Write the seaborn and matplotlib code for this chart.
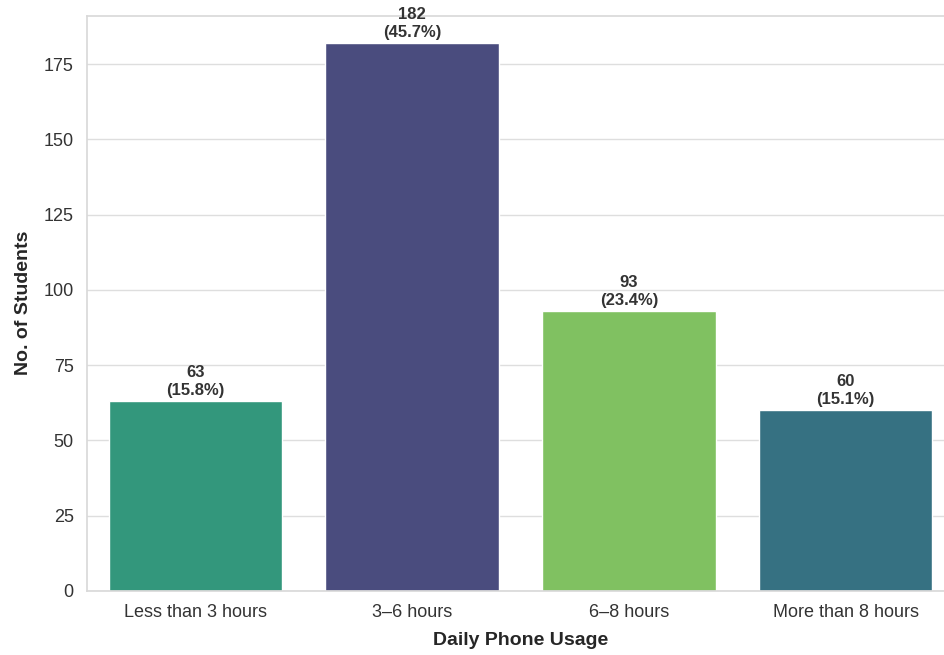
import pandas as pd
import seaborn as sns
import matplotlib
matplotlib.use("Agg")
from matplotlib import pyplot as plt

# Data
categories = ["Less than 3 hours", "3\u20136 hours", "6\u20138 hours", "More than 8 hours"]
counts = [63, 182, 93, 60]
# viridis slot each category was drawn with
palette_order = ["3\u20136 hours", "More than 8 hours", "Less than 3 hours", "6\u20138 hours"]

df = pd.DataFrame({"usage": categories, "students": counts})
total = sum(counts)

sns.set_theme(style="whitegrid")
plt.rcParams["font.family"] = ["Liberation Sans", "DejaVu Sans"]
plt.rc("axes", edgecolor="#d9d9d9")
plt.rc("grid", color="#dedede", linewidth=1.0)

colors = sns.color_palette("viridis", len(palette_order))
pal = dict(zip(palette_order, colors))

fig, ax = plt.subplots(figsize=(9.45, 6.55), dpi=100)
fig.subplots_adjust(left=0.092, right=1.0095, top=0.976, bottom=0.098)

sns.barplot(data=df, x="usage", y="students", hue="usage", order=categories,
            palette=pal, legend=False, ax=ax)

for i, c in enumerate(counts):
    ax.annotate(f"{c}\n({c / total * 100:.1f}%)", (i, c), xytext=(0, 2),
                textcoords="offset points", ha="center", va="bottom",
                fontsize=12, fontweight="bold", color="#333333",
                annotation_clip=False, linespacing=1.3)

ax.set_ylim(0, max(counts) * 1.05)
ax.set_xlim(-0.5, 3.5)
ax.set_xlabel("Daily Phone Usage", fontsize=14, fontweight="bold", labelpad=8)
ax.set_ylabel("No. of Students", fontsize=14, fontweight="bold", labelpad=8)
ax.tick_params(axis="both", labelsize=13, colors="#333333")
ax.spines["right"].set_visible(False)

fig.savefig("out.png", dpi=100)
